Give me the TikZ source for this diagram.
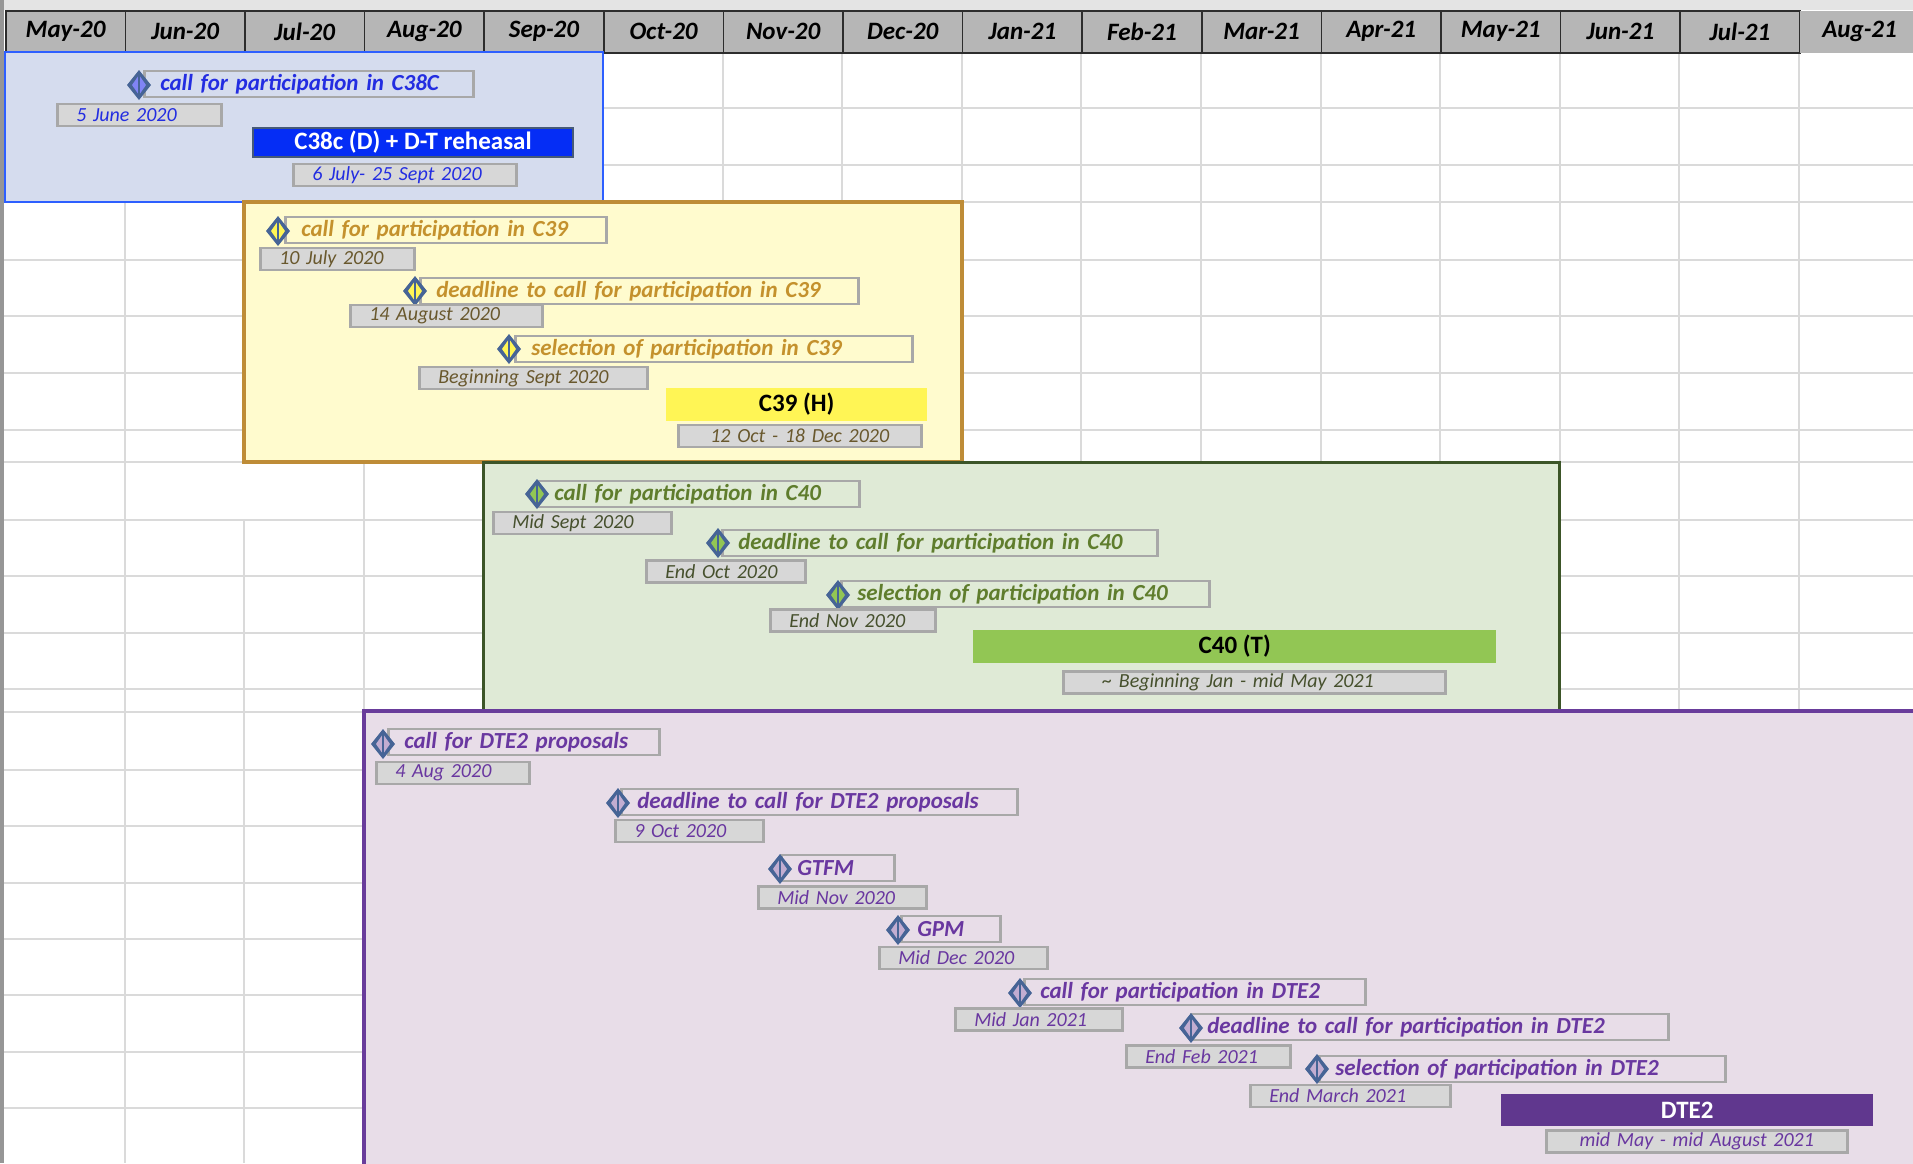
\documentclass[tikz,border=0pt]{standalone}
\usepackage{fontspec}
\setmainfont{Carlito}
\usetikzlibrary{positioning}

\definecolor{topband}{RGB}{228,228,228}
\definecolor{sheetedge}{RGB}{150,150,150}
\definecolor{gridgray}{RGB}{218,218,218}
\definecolor{hdrfill}{RGB}{182,182,182}
\definecolor{hdredge}{RGB}{45,45,45}
\definecolor{boxgray}{RGB}{168,168,168}
\definecolor{datefill}{RGB}{215,215,215}
\definecolor{mkedge}{RGB}{70,100,150}
\definecolor{bluebg}{RGB}{213,220,238}
\definecolor{blueedge}{RGB}{45,95,255}
\definecolor{bluetxt}{RGB}{35,45,225}
\definecolor{bluebar}{RGB}{5,45,245}
\definecolor{bluebaredge}{RGB}{70,90,120}
\definecolor{yelbg}{RGB}{255,251,206}
\definecolor{yeledge}{RGB}{190,140,55}
\definecolor{yeltxt}{RGB}{196,145,45}
\definecolor{yeldate}{RGB}{105,88,45}
\definecolor{yelbar}{RGB}{255,245,85}
\definecolor{grnbg}{RGB}{223,234,214}
\definecolor{grnedge}{RGB}{60,85,40}
\definecolor{grntxt}{RGB}{95,125,45}
\definecolor{grndate}{RGB}{70,80,45}
\definecolor{grnbar}{RGB}{146,198,84}
\definecolor{purbg}{RGB}{232,221,232}
\definecolor{puredge}{RGB}{105,60,155}
\definecolor{purtxt}{RGB}{105,55,160}
\definecolor{purbar}{RGB}{96,55,142}

\newcommand\hdrfont{\fontsize{25}{30}\selectfont\bfseries\itshape}
\newcommand\evfont{\fontsize{23}{27}\selectfont\bfseries\itshape}
\newcommand\datefont{\fontsize{20}{24}\selectfont\itshape}
\newcommand\barfont{\fontsize{25}{30}\selectfont\bfseries}

\begin{document}
\begin{tikzpicture}[x=1pt, y=-1pt,
    gridline/.style={draw=gridgray, line width=2},
    hdrcell/.style={anchor=north west, fill=hdrfill, draw=hdredge, line width=1.5,
        minimum width=119.6, minimum height=42, inner sep=0, font=\hdrfont},
    evbox/.style={anchor=west, draw=boxgray, line width=2.5, minimum height=26,
        inner xsep=16, inner ysep=0, text width=#1, align=left, font=\evfont},
    datebox/.style={anchor=west, fill=datefill, draw=boxgray, line width=2.5, minimum height=22,
        inner xsep=19, inner ysep=0, text width=#1, align=left, font=\datefont},
    bar/.style={anchor=west, inner sep=0, font=\barfont},
    pics/mstone/.style={code={
        \fill[mkedge] (-12,0) -- (0,-15) -- (12,0) -- (0,15) -- cycle;
        \fill[#1] (-7,0) -- (0,-10) -- (7,0) -- (0,10) -- cycle;
        \draw[mkedge, line width=2] (0,-10) -- (0,10);
    }}]
    \useasboundingbox (0,0) rectangle (1913,1163);
    \fill[white] (0,0) rectangle (1913,1163);
    \fill[topband] (0,0) rectangle (1913,10);

    % Grid
    \foreach \y in {108,165,202,260,316,373,430,462,520,576,633,689,712,770,826,883,939,995,1052,1108}
        \draw[gridline] (0,\y) -- (1913,\y);
    \foreach \i in {1,3,4,...,15}
        \draw[gridline] ({5+119.6*\i},52) -- ({5+119.6*\i},1163);
    \draw[gridline] (244.2,52) -- (244.2,462);
    \draw[gridline] (244.2,520) -- (244.2,1163);
    \draw[sheetedge, line width=4] (2,0) -- (2,1163);

    % months
    \foreach \m [count=\i from 0] in {May-20,Jun-20,Jul-20,Aug-20,Sep-20,Oct-20,Nov-20,Dec-20,
                                      Jan-21,Feb-21,Mar-21,Apr-21,May-21,Jun-21,Jul-21}
        \node[hdrcell] (h\i) at ({5+119.6*\i},10) {\m};
    \node[hdrcell, draw=none] (h15) at (1799,10) {Aug-21};

    % C38c
    \draw[fill=bluebg, draw=blueedge, line width=2] (5,52) rectangle (603,202);
    \node[evbox=297pt, text=bluetxt] (callC38) at (143,84) {call for participation in C38C};
    \pic at (139,85) {mstone=bluebg!60!blue};
    \node[datebox=126pt, text=bluetxt] (dCallC38) at (56,115) {5 June 2020};
    \node[bar, fill=bluebar, draw=bluebaredge, line width=2, minimum width=320, minimum height=29,
        text=white] (runC38) at (252,142.5) {C38c (D) + D-T reheasal};
    \node[datebox=185pt, text=bluetxt] (dRunC38) at (292,175) {6 July- 25 Sept 2020};

    % C39
    \draw[fill=yelbg, draw=yeledge, line width=3.5] (244.2,202) rectangle (961.8,462);
    \node[evbox=289pt, text=yeltxt] (callC39) at (284,230) {call for participation in C39};
    \pic at (278,231) {mstone=yelbar};
    \node[datebox=116pt, text=yeldate] (dCallC39) at (259,259) {10 July 2020};
    \node[evbox=406pt, text=yeltxt] (deadC39) at (419,291) {deadline to call for participation in C39};
    \pic at (415,291) {mstone=yelbar};
    \node[datebox=154pt, text=yeldate] (dDeadC39) at (349,316) {14 August 2020};
    \node[evbox=365pt, text=yeltxt] (selC39) at (514,349) {selection of participation in C39};
    \pic at (509,349) {mstone=yelbar};
    \node[datebox=190pt, text=yeldate] (dSelC39) at (418,378) {Beginning Sept 2020};
    \node[bar, fill=yelbar, minimum width=261, minimum height=33] (runC39) at (666,404) {C39 (H)};
    \node[datebox=205pt, text=yeldate, align=center] (dRunC39) at (677,436) {12 Oct - 18 Dec 2020};

    % C40
    \draw[fill=grnbg, draw=grnedge, line width=3] (483.4,462) rectangle (1559.8,711);
    \node[evbox=289pt, text=grntxt] (callC40) at (537,494) {call for participation in C40};
    \pic at (537,494) {mstone=grnbar};
    \node[datebox=140pt, text=grndate] (dCallC40) at (492,523) {Mid Sept 2020};
    \node[evbox=403pt, text=grntxt] (deadC40) at (721,543) {deadline to call for participation in C40};
    \pic at (718,543) {mstone=grnbar};
    \node[datebox=121pt, text=grndate] (dDeadC40) at (645,571.5) {End Oct 2020};
    \node[evbox=336pt, text=grntxt] (selC40) at (840,594) {selection of participation in C40};
    \pic at (838,595) {mstone=grnbar};
    \node[datebox=127pt, text=grndate] (dSelC40) at (769,620.5) {End Nov 2020};
    \node[bar, fill=grnbar, minimum width=523, minimum height=33] (runC40) at (973,646) {C40 (T)};
    \node[datebox=344pt, text=grndate] (dRunC40) at (1062,682.5) {\hspace*{20pt}\textasciitilde{} Beginning Jan - mid May 2021};

    % DTE2
    \draw[fill=purbg, draw=puredge, line width=4.5] (363.8,711) rectangle (1925,1175);
    \node[evbox=239pt, text=purtxt] (callProp) at (387,742) {call for DTE2 proposals};
    \pic at (383,744) {mstone=purbg!70!puredge};
    \node[datebox=115pt, text=purtxt] (dCallProp) at (375,773) {4 Aug 2020};
    \node[evbox=364pt, text=purtxt] (deadProp) at (620,802) {deadline to call for DTE2 proposals};
    \pic at (618,803) {mstone=purbg!70!puredge};
    \node[datebox=110pt, text=purtxt] (dDeadProp) at (614,831) {9 Oct 2020};
    \node[evbox=81pt, text=purtxt] (gtfm) at (780,868) {GTFM};
    \pic at (780,869) {mstone=purbg!70!puredge};
    \node[datebox=130pt, text=purtxt] (dGtfm) at (757,897.5) {Mid Nov 2020};
    \node[evbox=67pt, text=purtxt] (gpm) at (900,929) {GPM};
    \pic at (898,930) {mstone=purbg!70!puredge};
    \node[datebox=130pt, text=purtxt] (dGpm) at (878,958) {Mid Dec 2020};
    \node[evbox=309pt, text=purtxt] (callDTE) at (1023,992) {call for participation in DTE2};
    \pic at (1020,993) {mstone=purbg!70!puredge};
    \node[datebox=129pt, text=purtxt] (dCallDTE) at (954,1019.5) {Mid Jan 2021};
    \node[evbox=445pt, text=purtxt] (deadDTE) at (1190,1027) {deadline to call for participation in DTE2};
    \pic at (1191,1028) {mstone=purbg!70!puredge};
    \node[datebox=126pt, text=purtxt] (dDeadDTE) at (1125,1056.5) {End Feb 2021};
    \node[evbox=374pt, text=purtxt] (selDTE) at (1318,1069) {selection of participation in DTE2};
    \pic at (1317,1069) {mstone=purbg!70!puredge};
    \node[datebox=162pt, text=purtxt] (dSelDTE) at (1249,1096) {End March 2021};
    \node[bar, fill=purbar, minimum width=372, minimum height=32, text=white] (runDTE) at (1501,1110) {DTE2};
    \node[datebox=263pt, text=purtxt, align=center] (dRunDTE) at (1545,1141.5) {mid May - mid August 2021};
\end{tikzpicture}
\end{document}
